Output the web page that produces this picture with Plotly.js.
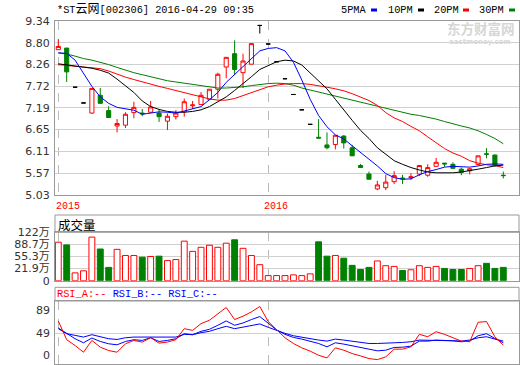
<!DOCTYPE html>
<html><head><meta charset="utf-8">
<script src="https://cdn.plot.ly/plotly-3.0.1.min.js"></script>
<style>html,body{margin:0;padding:0;background:#fff;}#chart{width:520px;height:365px;}</style>
</head><body><div id="chart"></div>
<script>
// ---------- data ----------
const openP  = [8.63,8.67,7.70,7.31,7.06,7.50,7.12,6.74,6.76,7.07,7.06,7.08,7.06,6.86,6.97,7.09,7.24,7.27,7.40,7.65,8.20,8.53,8.06,8.27,9.23,8.77,8.33,7.91,7.52,7.14,6.78,6.46,6.27,6.28,6.49,6.20,5.76,5.55,5.18,5.21,5.36,5.45,5.46,5.55,5.52,5.74,5.82,5.79,5.67,5.63,5.79,6.05,6.02,5.52];
const highP  = [8.89,8.67,7.70,7.31,7.67,7.68,7.23,6.91,7.08,7.34,7.16,7.36,7.16,7.05,7.13,7.42,7.36,7.58,7.65,8.06,8.44,8.86,8.53,8.78,9.23,8.77,8.33,7.91,7.52,7.14,6.78,6.91,6.58,6.51,6.51,6.27,5.80,5.61,5.38,5.53,5.62,5.53,5.57,5.76,5.79,5.95,5.82,5.84,5.71,5.70,6.00,6.19,6.03,5.61];
const lowP   = [8.63,7.83,7.70,7.31,7.04,7.30,6.95,6.58,6.69,6.93,6.98,7.08,6.84,6.64,6.90,6.97,7.16,7.27,7.38,7.42,7.92,8.00,7.68,8.27,9.03,8.77,8.33,7.91,7.52,7.14,6.78,6.44,6.16,6.16,6.18,6.00,5.71,5.42,5.15,5.15,5.30,5.30,5.40,5.50,5.48,5.74,5.73,5.69,5.52,5.54,5.76,5.94,5.73,5.44];
const closeP = [8.71,8.08,7.70,7.31,7.67,7.30,6.95,6.80,7.03,7.20,7.04,7.21,6.97,6.98,7.06,7.34,7.26,7.50,7.65,8.02,8.44,8.14,8.35,8.78,9.23,8.77,8.33,7.91,7.52,7.14,6.78,6.44,6.20,6.51,6.32,6.00,5.71,5.42,5.28,5.35,5.51,5.43,5.48,5.76,5.71,5.84,5.80,5.69,5.59,5.68,6.00,6.04,5.77,5.51];

const ma5  = [8.55,8.54,8.37,8.06,7.72,7.46,7.30,7.20,7.17,7.13,7.03,7.06,7.09,7.08,7.06,7.11,7.16,7.22,7.39,7.57,7.82,8.02,8.20,8.42,8.60,8.66,8.68,8.60,8.32,7.88,7.40,7.00,6.72,6.52,6.42,6.25,6.08,5.93,5.75,5.56,5.46,5.42,5.43,5.53,5.61,5.66,5.72,5.74,5.73,5.72,5.75,5.79,5.80,5.79];
const ma10 = [8.28,8.25,8.23,8.20,8.17,8.12,8.05,7.90,7.73,7.57,7.36,7.22,7.15,7.10,7.08,7.08,7.10,7.14,7.22,7.34,7.46,7.62,7.78,7.96,8.14,8.24,8.33,8.37,8.35,8.25,8.06,7.86,7.66,7.40,7.13,6.88,6.63,6.43,6.20,6.03,5.88,5.79,5.71,5.65,5.60,5.58,5.58,5.58,5.60,5.63,5.67,5.71,5.75,5.77];
const ma20 = [8.26,8.24,8.22,8.20,8.19,8.16,8.10,8.02,7.95,7.89,7.83,7.78,7.72,7.67,7.62,7.57,7.52,7.46,7.41,7.38,7.38,7.42,7.49,7.56,7.63,7.71,7.75,7.78,7.79,7.79,7.77,7.74,7.70,7.66,7.61,7.54,7.46,7.37,7.25,7.07,6.94,6.85,6.73,6.62,6.47,6.32,6.18,6.07,5.99,5.88,5.82,5.78,5.76,5.71];
const ma30 = [8.55,8.52,8.47,8.41,8.37,8.32,8.26,8.19,8.12,8.06,8.01,7.96,7.91,7.86,7.83,7.80,7.77,7.73,7.70,7.68,7.68,7.69,7.71,7.74,7.77,7.79,7.80,7.79,7.75,7.68,7.63,7.58,7.52,7.47,7.43,7.38,7.33,7.28,7.23,7.17,7.12,7.07,7.03,7.00,6.96,6.91,6.85,6.79,6.74,6.69,6.62,6.53,6.43,6.30];

const volume = [94.7,87.2,10.1,15.8,108.8,75.9,25.2,75.0,58.1,58.1,53.4,55.3,56.2,44.0,46.8,97.6,69.4,80.6,86.3,80.6,91.9,101.3,77.8,58.1,32.7,2.6,2.6,2.6,4.5,2.6,7.3,95.7,56.2,58.1,50.6,30.8,19.5,25.2,43.0,29.9,28.0,16.7,18.6,29.9,25.2,28.0,22.4,19.5,19.5,22.4,29.9,36.4,22.4,25.2];

const rsiA = [70.5,38,28,16.4,36.8,25.1,19.3,16.4,31,36.8,33.9,41.4,32.1,33.9,38,57.1,54.2,65.9,71.7,83.3,93.8,72.9,78.7,86.2,95.5,69.4,54.8,41.4,31.5,24,18.2,11.2,6.5,24,19.9,14.1,10,5.4,3.6,8.3,21.7,21.7,25.7,47.3,43.2,51.9,47.3,41.4,35.6,34.5,68.2,69.4,43.2,28.6];
const rsiB = [58.3,49.6,39.7,32.7,40.9,35,31,29.2,35,38,36.8,41.4,35,36.8,39.7,48.4,46.7,52.5,56,63,70.5,63,67,72.9,78.1,66.5,55,47.3,42,39.1,35.6,31.5,25.7,32.7,30.4,27.5,24.6,21.7,18.8,19.9,24.6,25.1,26.9,35.6,35.6,37.4,37.4,36.2,34.5,35.6,44.9,48.4,40.3,32.7];
const rsiC = [57.1,48.4,45.5,42.6,46.7,43.8,39.7,38.5,41.4,42.6,42.6,42.6,41.4,41.4,42.6,47.3,46.7,50.2,52.5,57.1,61.2,57.1,60,63,65.3,59.5,53.7,49,44.9,42,39.1,37.4,35.6,39.1,37.4,35.6,32.7,31.5,31.5,32.7,32.7,33.3,34.5,37.4,37.4,37.4,37.4,36.2,35.6,37.4,41.4,43.2,39.1,35.6];

const yearStartIdx = [0, 25];
const yearLabels = ['2015', '2016'];
const priceTickLabels = ['9.34','8.80','8.26','7.72','7.19','6.65','6.11','5.57','5.03'];
const volTickLabels = ['122万','88.7万','55.3万','21.9万','0'];
const volTickValues = [122, 88.7, 55.3, 21.9, -11.5];
const rsiTickLabels = ['89','49','0'];
const rsiGridValues = [49];
const titleText = '*ST<span style="font-size:12px">云网</span>[002306] 2016-04-29 09:35';
const maNames = ['5PMA','10PM','20PM','30PM'];
const maColors = ['#0000ff','#000000','#ff0000','#008000'];

// ---------- helpers / layout geometry ----------
const idx = openP.map((_, i) => i);
const isFlat = idx.map(i => openP[i] === closeP[i]);
const pick = (arr, want) => arr.map((v, i) => (isFlat[i] === want ? v : null));
const VOL_FLOOR = volTickValues[volTickValues.length - 1];
const ML = 55, MR = 1, MT = 21, MB = 1, W = 520, H = 365;
const PW = W - ML - MR, PH = H - MT - MB, PB = H - MB;
const px = x => (x - ML) / PW;
const py = y => (PB - y) / PH;
const xr = [-0.393, 54.87];

const up = idx.map(i => closeP[i] >= openP[i]);
const RED = '#ff0000', GRN = '#008000';

const traces = [
  {type:'candlestick', x: idx, open: pick(openP,false), high: pick(highP,false), low: pick(lowP,false), close: pick(closeP,false),
   xaxis:'x', yaxis:'y', whiskerwidth:0,
   increasing:{line:{color:RED,width:1}, fillcolor:'#ffffff'},
   decreasing:{line:{color:GRN,width:1}, fillcolor:GRN}, hoverinfo:'skip', showlegend:false},
  {type:'candlestick', x: idx, open: pick(openP,true), high: pick(highP,true), low: pick(lowP,true), close: pick(closeP,true),
   xaxis:'x', yaxis:'y', whiskerwidth:0,
   increasing:{line:{color:'#000',width:1}, fillcolor:'#000'},
   decreasing:{line:{color:'#000',width:1}, fillcolor:'#000'}, hoverinfo:'skip', showlegend:false},
];
[ma30, ma20, ma10, ma5].forEach((m, k) => {
  const ci = 3 - k;
  traces.push({type:'scatter', mode:'lines', x: idx, y: m, xaxis:'x', yaxis:'y',
    line:{color: maColors[ci], width:1}, hoverinfo:'skip', showlegend:false});
});
traces.push({type:'bar', x: idx, y: volume.map(v => v - VOL_FLOOR), base: VOL_FLOOR, xaxis:'x2', yaxis:'y2',
  marker:{color: up.map(u => u ? '#ffffff' : GRN), line:{color: up.map(u => u ? RED : GRN), width:1}},
  hoverinfo:'skip', showlegend:false});
[[rsiC,'#0000ff'],[rsiB,'#0000ff'],[rsiA,'#ff0000']].forEach(([r,c]) => {
  traces.push({type:'scatter', mode:'lines', x: idx, y: r, xaxis:'x3', yaxis:'y3',
    line:{color:c, width:1}, hoverinfo:'skip', showlegend:false});
});

const tickFont = {family:'DejaVu Sans, Noto Sans CJK SC', size:11, color:'#333'};
const BORDER = '#999', GRID = '#d0d0d0';
const xBase = {range: xr, showline:true, mirror:true, linecolor:BORDER, linewidth:1,
  tickvals: yearStartIdx, showticklabels:false, ticks:'', showgrid:true, gridcolor:'#bbbbbb', griddash:'dash',
  zeroline:false, fixedrange:true};
const yBase = {showline:true, mirror:true, linecolor:BORDER, linewidth:1, ticks:'', gridcolor:GRID,
  zeroline:false, tickfont: tickFont, fixedrange:true, ticklabelstandoff: 2};

const layout = {
  width: W, height: H, margin:{l:ML, r:MR, t:MT, b:MB, pad:0},
  paper_bgcolor:'#fff', plot_bgcolor:'#fff', showlegend:false, hovermode:false,
  bargap: 0.3,
  xaxis: Object.assign({}, xBase, {anchor:'y', rangeslider:{visible:false}}),
  xaxis2: Object.assign({}, xBase, {anchor:'y2', matches:'x'}),
  xaxis3: Object.assign({}, xBase, {anchor:'y3', matches:'x'}),
  yaxis: Object.assign({}, yBase, {domain:[py(195), 1], range:[5.03, 9.34],
    tickvals: priceTickLabels.map(Number), ticktext: priceTickLabels}),
  yaxis2: Object.assign({}, yBase, {domain:[py(280.7), py(232.3)], range:[VOL_FLOOR, 122],
    tickvals: volTickValues, ticktext: volTickLabels}),
  yaxis3: Object.assign({}, yBase, {domain:[0, py(301)], range:[-4, 105],
    tickvals: rsiGridValues, showticklabels:false}),
  shapes: [
    {type:'rect', xref:'paper', yref:'paper', x0:0, x1:1, y0:py(232.3), y1:py(215), line:{color:BORDER,width:1}},
    {type:'rect', xref:'paper', yref:'paper', x0:0, x1:1, y0:py(301), y1:py(287.3), line:{color:BORDER,width:1}},
  ],
  annotations: []
};

const mono = 'Liberation Mono, Noto Sans CJK SC';
const ann = (text, x, y, opts) => layout.annotations.push(Object.assign({
  text, xref:'paper', yref:'paper', x: px(x), y: py(y), xanchor:'left', yanchor:'middle',
  showarrow:false, borderpad:0, font:{family:mono, size:10.3, color:'#000'}}, opts || {}));

ann(titleText, 56, 10);
const legX = [340, 387, 433, 478], legBox = [371, 418, 463, 509];
maNames.forEach((n, k) => {
  ann(n, legX[k], 10);
  layout.shapes.push({type:'rect', xref:'paper', yref:'paper', x0:px(legBox[k]), x1:px(legBox[k]+6),
    y0:py(11.5), y1:py(8.5), fillcolor: maColors[k], line:{width:0}});
});
ann('<b>东方财富网</b>', 446, 28, {font:{family:'Noto Sans CJK SC', size:13.5, color:'#d6d6d6'}, yanchor:'middle'});
ann('<b>eastmoney.com</b>', 448, 41.5, {font:{family:'DejaVu Sans', size:7, color:'#d6d6d6'}});
ann(yearLabels[0], 55, 206, {font:{family:mono, size:10, color:RED}});
ann(yearLabels[1], 263, 206, {font:{family:mono, size:10, color:RED}});
ann('成交量', 57, 224, {font:{family:'Noto Sans CJK SC', size:12.5, color:'#000'}});
ann('<span style="color:#ff0000">RSI_A:--</span> <span style="color:#0000ff">RSI_B:--</span> <span style="color:#0000ff">RSI_C:--</span>', 56, 293.5);
rsiTickLabels.forEach(t => {
  layout.annotations.push({text:t, xref:'paper', yref:'y3', x:0, y:Number(t), xanchor:'right', yanchor:'middle',
    xshift:-3, yshift: Number(t) === 0 ? 6 : 0, showarrow:false, font:tickFont});
});

Plotly.newPlot('chart', traces, layout, {staticPlot:true, displayModeBar:false});
</script></body></html>
